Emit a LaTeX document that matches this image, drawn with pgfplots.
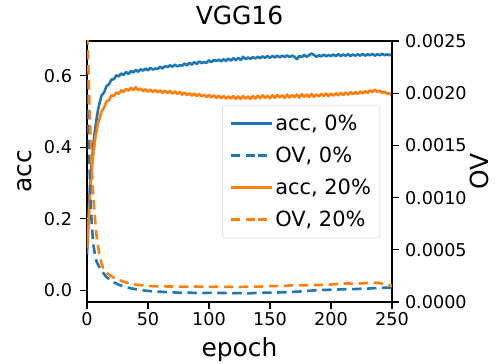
\documentclass[border=0pt]{standalone}
\usepackage{fontspec}
\setmainfont{DejaVu Sans}
\usepackage{pgfplots}
\usepackage{pgfplotstable}
\pgfplotsset{compat=1.18}
\definecolor{tabblue}{HTML}{1F77B4}
\definecolor{taborange}{HTML}{FF7F0E}

\pgfplotstableread{
x y
0 0.100
1 0.185
2 0.262
3 0.318
4 0.362
5 0.398
6 0.435
7 0.458
8 0.482
9 0.503
10 0.519
12 0.545
14 0.553
16 0.571
18 0.576
20 0.589
22 0.590
24 0.601
26 0.598
28 0.606
30 0.602
32 0.610
34 0.605
36 0.613
38 0.609
40 0.616
42 0.611
44 0.618
46 0.614
48 0.620
50 0.615
52 0.622
54 0.617
56 0.620
58 0.619
60 0.625
62 0.620
64 0.627
66 0.624
68 0.629
70 0.625
72 0.631
74 0.626
76 0.629
78 0.628
80 0.634
82 0.629
84 0.636
86 0.631
88 0.638
90 0.633
92 0.640
94 0.635
96 0.638
98 0.636
100 0.643
102 0.638
104 0.644
106 0.641
108 0.645
110 0.640
112 0.646
114 0.641
116 0.648
118 0.642
120 0.649
122 0.643
124 0.650
126 0.644
128 0.653
130 0.646
132 0.651
134 0.647
136 0.652
138 0.648
140 0.653
142 0.649
144 0.654
146 0.650
148 0.655
150 0.650
152 0.655
154 0.651
156 0.656
158 0.651
160 0.656
162 0.652
164 0.657
166 0.652
168 0.656
170 0.653
172 0.646
174 0.655
176 0.652
178 0.658
180 0.653
182 0.657
184 0.662
186 0.658
188 0.653
190 0.657
192 0.654
194 0.659
196 0.654
198 0.658
200 0.655
202 0.659
204 0.655
206 0.660
208 0.655
210 0.659
212 0.656
214 0.660
216 0.655
218 0.659
220 0.656
222 0.660
224 0.656
226 0.661
228 0.656
230 0.660
232 0.657
234 0.661
236 0.656
238 0.660
240 0.657
242 0.661
244 0.657
246 0.660
248 0.657
250 0.660
}\accA

\pgfplotstableread{
x y
0 0.118
1 0.172
2 0.238
3 0.297
4 0.338
5 0.377
6 0.402
7 0.431
8 0.445
9 0.468
10 0.476
12 0.501
14 0.510
16 0.528
18 0.531
20 0.545
22 0.543
24 0.553
26 0.549
28 0.559
30 0.554
32 0.563
34 0.558
36 0.566
38 0.560
40 0.568
42 0.559
44 0.564
46 0.557
48 0.562
50 0.555
52 0.561
54 0.554
56 0.560
58 0.553
60 0.559
62 0.552
64 0.558
66 0.551
68 0.557
70 0.550
72 0.556
74 0.549
76 0.555
78 0.547
80 0.553
82 0.546
84 0.551
86 0.544
88 0.550
90 0.543
92 0.549
94 0.542
96 0.547
98 0.540
100 0.546
102 0.539
104 0.545
106 0.538
108 0.544
110 0.537
112 0.543
114 0.536
116 0.542
118 0.536
120 0.543
122 0.535
124 0.542
126 0.535
128 0.543
130 0.536
132 0.542
134 0.535
136 0.543
138 0.536
140 0.544
142 0.537
144 0.545
146 0.538
148 0.544
150 0.537
152 0.545
154 0.538
156 0.546
158 0.539
160 0.545
162 0.538
164 0.547
166 0.539
168 0.546
170 0.540
172 0.547
174 0.539
176 0.548
178 0.541
180 0.547
182 0.540
184 0.549
186 0.541
188 0.548
190 0.542
192 0.549
194 0.543
196 0.550
198 0.543
200 0.550
202 0.544
204 0.551
206 0.545
208 0.552
210 0.546
212 0.553
214 0.547
216 0.554
218 0.548
220 0.555
222 0.549
224 0.556
226 0.550
228 0.557
230 0.552
232 0.559
234 0.554
236 0.561
238 0.555
240 0.558
242 0.552
244 0.555
246 0.549
248 0.551
250 0.545
}\accB

\pgfplotstableread{
x y
0 0.00213
1 0.00174
2 0.00133
3 0.00094
4 0.00073
5 0.00057
6 0.00049
7 0.00043
8 0.00038
9 0.00036
10 0.00034
11 0.00031
12 0.00030
13 0.00028
14 0.00027
15 0.00025
16 0.00024
17 0.00023
18 0.00022
19 0.00021
20 0.000205
22 0.000188
24 0.000178
26 0.000166
28 0.000157
30 0.000150
32 0.000142
34 0.000137
36 0.000131
38 0.000127
40 0.000122
43 0.000118
46 0.000112
49 0.000107
52 0.000104
55 0.000101
58 0.000099
61 0.000098
64 0.000095
67 0.000094
70 0.000092
73 0.000091
76 0.000089
79 0.000090
82 0.000088
85 0.000089
88 0.000087
91 0.000090
94 0.000088
97 0.000086
100 0.000088
103 0.000087
106 0.000085
109 0.000087
112 0.000086
115 0.000088
118 0.000085
121 0.000084
124 0.000086
127 0.000083
130 0.000084
133 0.000082
136 0.000085
139 0.000087
142 0.000086
145 0.000089
148 0.000090
151 0.000089
154 0.000092
157 0.000091
160 0.000094
163 0.000093
166 0.000096
169 0.000097
172 0.000099
175 0.000101
178 0.000104
181 0.000106
184 0.000109
187 0.000112
190 0.000114
193 0.000116
196 0.000115
199 0.000118
202 0.000120
205 0.000119
208 0.000121
211 0.000122
214 0.000120
217 0.000123
220 0.000124
223 0.000126
226 0.000128
229 0.000127
232 0.000130
235 0.000132
238 0.000134
241 0.000135
244 0.000137
247 0.000136
250 0.000135
}\ovA

\pgfplotstableread{
x y
0 0.00270
1 0.00231
2 0.00190
3 0.00156
4 0.00126
5 0.00104
6 0.00088
7 0.00074
8 0.00062
9 0.00054
10 0.00046
11 0.00041
12 0.00037
13 0.00033
14 0.00031
15 0.00029
16 0.000283
17 0.000271
18 0.000262
19 0.000254
20 0.000246
22 0.000232
24 0.000221
26 0.000211
28 0.000203
30 0.000195
32 0.000188
34 0.000181
36 0.000176
38 0.000171
40 0.000166
43 0.000162
46 0.000158
49 0.000155
52 0.000153
55 0.000151
58 0.000150
61 0.000149
64 0.000150
67 0.000148
70 0.000149
73 0.000147
76 0.000148
79 0.000146
82 0.000148
85 0.000147
88 0.000149
91 0.000147
94 0.000146
97 0.000148
100 0.000146
103 0.000145
106 0.000147
109 0.000145
112 0.000144
115 0.000146
118 0.000144
121 0.000145
124 0.000143
127 0.000145
130 0.000146
133 0.000145
136 0.000147
139 0.000148
142 0.000147
145 0.000150
148 0.000151
151 0.000153
154 0.000152
157 0.000155
160 0.000156
163 0.000155
166 0.000158
169 0.000159
172 0.000158
175 0.000160
178 0.000161
181 0.000160
184 0.000162
187 0.000163
190 0.000162
193 0.000164
196 0.000166
199 0.000167
202 0.000170
205 0.000173
208 0.000176
211 0.000177
214 0.000178
217 0.000176
220 0.000175
223 0.000177
226 0.000179
229 0.000182
232 0.000184
235 0.000186
238 0.000183
241 0.000178
244 0.000168
247 0.000160
250 0.000155
}\ovB

\pgfplotsset{
  common/.style={
    scale only axis, width=305bp, height=261bp,
    xmin=0, xmax=250,
    tick align=outside,
    major tick length=6.5bp,
    every tick/.style={black, line width=1.1bp},
    axis line style={line width=1.1bp},
    tick label style={font=\fontsize{17.7}{21}\selectfont},
    label style={font=\fontsize{25}{30}\selectfont, inner sep=0pt},
    /pgf/number format/assume math mode=true,
    scaled y ticks=false,
  },
  accline/.style={line width=2.6bp, line join=round},
  ovline/.style={line width=2.6bp, line join=round, dash pattern=on 9.5bp off 5.5bp},
}

\begin{document}
\begin{tikzpicture}
\begin{axis}[common,
  name=ax,
  ymin=-0.033, ymax=0.697,
  xtick={0,50,100,150,200,250},
  ytick={0,0.2,0.4,0.6},
  xtick pos=bottom, ytick pos=left,
  yticklabel style={xshift=-5bp, /pgf/number format/.cd, fixed, fixed zerofill, precision=1},
  xlabel={epoch}, ylabel={acc},
  xlabel style={at={(axis description cs:0.5,-0.207)}, anchor=base},
  ylabel style={at={(axis description cs:-0.182,0.5)}, anchor=base},
  title={VGG16},
  title style={font=\fontsize{25}{30}\selectfont, at={(axis description cs:0.5,1.042)}, anchor=base},
]
\addplot[accline, tabblue] table {\accA};
\addplot[accline, taborange] table {\accB};
\end{axis}
\begin{axis}[common,
  ymin=0, ymax=0.0025,
  axis x line=none,
  axis y line*=right,
  ytick={0,0.0005,0.001,0.0015,0.002,0.0025},
  yticklabel style={xshift=3bp, /pgf/number format/.cd, fixed, fixed zerofill, precision=4},
  ylabel={OV},
  ylabel style={at={(axis description cs:1.318,0.5)}, anchor=base},
  legend cell align=left,
  legend image code/.code={\draw[#1, line width=2.6bp] (0bp,0bp) -- (27bp,0bp); \path (27bp,0bp) -- (41bp,0bp);},
  legend image post style={line width=2.6bp},
  legend style={at={(axis description cs:0.961,0.755)}, anchor=north east,
    font=\fontsize{21}{25}\selectfont, draw=black!20,
    rounded corners=3bp, fill=white, fill opacity=0.8, text opacity=1, draw opacity=1,
    inner xsep=7bp, inner ysep=8bp, row sep=11bp},
]
\addlegendimage{accline, tabblue}
\addlegendentry{acc, 0\%}
\addplot[ovline, tabblue] table {\ovA};
\addlegendentry{OV, 0\%}
\addlegendimage{accline, taborange}
\addlegendentry{acc, 20\%}
\addplot[ovline, taborange] table {\ovB};
\addlegendentry{OV, 20\%}
\end{axis}
\pgfresetboundingbox
\path[use as bounding box] ([xshift=-87bp,yshift=-62bp]ax.south west) rectangle ([xshift=104bp,yshift=41bp]ax.north east);
\end{tikzpicture}
\end{document}
